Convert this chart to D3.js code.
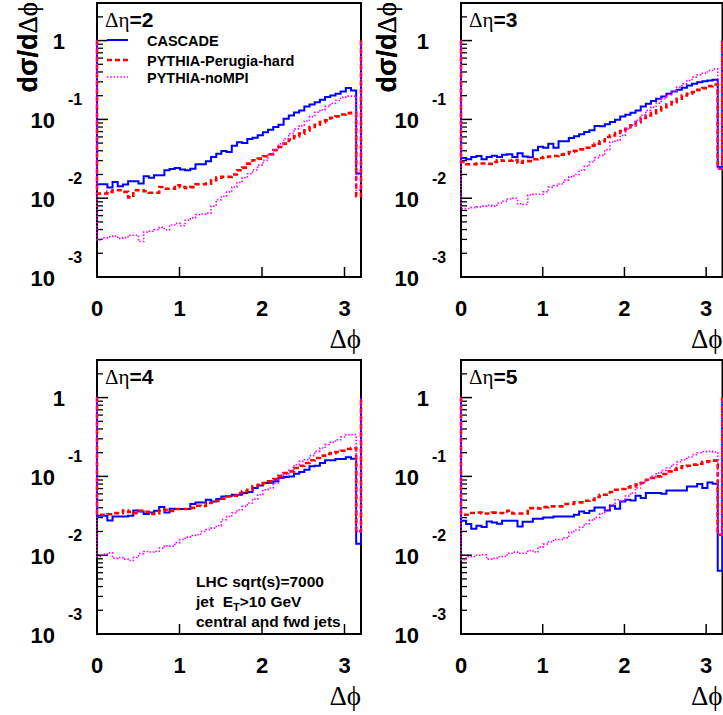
<!DOCTYPE html>
<html><head><meta charset="utf-8">
<script src="https://cdn.jsdelivr.net/npm/d3@7"></script>
<style>body{margin:0;background:#fff}svg{display:block}</style>
</head><body>
<script>
// ---------------- data ----------------
const panelEta = ["2", "3", "4", "5"];
const seriesNames = ["CASCADE", "PYTHIA-Perugia-hard", "PYTHIA-noMPI"];
const xTickValues = [0, 1, 2, 3];
const yTickExponents = [0, -1, -2, -3];
const nBins = 50;          // bins of width pi/50 over [0, pi], then one tail bin [pi, 3.2]
const xMax = 3.2;
const edgeValue = 1;       // histogram edge value drawn at the two ends
const noteLines = ["LHC sqrt(s)=7000", "jet  E|T|>10 GeV", "central and fwd jets"];

// log10(dσ/dΔφ) per bin (50 bins + tail bin)
const lgCascade2 = [
-1.823,-1.823,-1.865,-1.794,-1.848,-1.827,-1.785,-1.785,-1.814,-1.722,
-1.739,-1.709,-1.709,-1.646,-1.629,-1.616,-1.637,-1.646,-1.625,-1.570,
-1.570,-1.532,-1.477,-1.435,-1.401,-1.414,-1.333,-1.291,-1.299,-1.249,
-1.232,-1.200,-1.164,-1.131,-1.097,-1.067,-0.992,-0.949,-0.911,-0.886,
-0.835,-0.810,-0.781,-0.751,-0.717,-0.696,-0.675,-0.646,-0.603,-0.633,
-1.688];
const lgPerugia2 = [
-1.941,-1.941,-1.920,-1.900,-1.900,-1.920,-1.990,-1.900,-1.900,-1.911,
-1.930,-1.930,-1.857,-1.880,-1.880,-1.835,-1.860,-1.870,-1.860,-1.823,
-1.823,-1.815,-1.772,-1.739,-1.730,-1.730,-1.700,-1.646,-1.612,-1.561,
-1.519,-1.498,-1.468,-1.443,-1.392,-1.350,-1.308,-1.257,-1.215,-1.181,
-1.139,-1.097,-1.068,-1.034,-1.013,-0.979,-0.962,-0.937,-0.920,-0.916,
-1.975];
const lgNoMPI2 = [
-2.530,-2.500,-2.490,-2.480,-2.510,-2.500,-2.470,-2.470,-2.550,-2.430,
-2.420,-2.400,-2.370,-2.400,-2.340,-2.320,-2.350,-2.280,-2.250,-2.210,
-2.200,-2.190,-2.100,-2.020,-1.975,-1.920,-1.857,-1.800,-1.740,-1.690,
-1.640,-1.580,-1.520,-1.450,-1.380,-1.310,-1.245,-1.180,-1.120,-1.080,
-1.020,-0.965,-0.910,-0.880,-0.835,-0.795,-0.760,-0.720,-0.705,-0.705,
-1.900];

const lgCascade3 = [
-1.490,-1.505,-1.477,-1.464,-1.505,-1.477,-1.460,-1.477,-1.450,-1.443,
-1.477,-1.430,-1.470,-1.480,-1.392,-1.346,-1.359,-1.308,-1.359,-1.278,
-1.278,-1.236,-1.215,-1.190,-1.160,-1.139,-1.084,-1.088,-1.063,-1.034,
-1.004,-0.962,-0.941,-0.916,-0.886,-0.835,-0.802,-0.768,-0.738,-0.709,
-0.675,-0.646,-0.625,-0.599,-0.570,-0.549,-0.527,-0.515,-0.505,-0.498,
-1.604];
const lgPerugia3 = [
-1.540,-1.570,-1.570,-1.560,-1.560,-1.565,-1.540,-1.520,-1.525,-1.525,
-1.515,-1.550,-1.530,-1.530,-1.506,-1.490,-1.477,-1.470,-1.465,-1.447,
-1.440,-1.414,-1.400,-1.380,-1.359,-1.333,-1.308,-1.278,-1.224,-1.203,
-1.173,-1.148,-1.118,-1.076,-1.034,-0.983,-0.949,-0.920,-0.886,-0.844,
-0.810,-0.781,-0.738,-0.696,-0.675,-0.654,-0.625,-0.603,-0.578,-0.557,
-1.625];
const lgNoMPI3 = [
-2.130,-2.130,-2.120,-2.110,-2.100,-2.090,-2.100,-2.060,-2.040,-2.010,
-2.000,-2.070,-2.080,-1.960,-1.950,-1.950,-1.920,-1.860,-1.840,-1.820,
-1.770,-1.730,-1.700,-1.646,-1.595,-1.540,-1.485,-1.456,-1.384,-1.287,
-1.266,-1.203,-1.118,-1.076,-1.013,-0.949,-0.886,-0.844,-0.793,-0.738,
-0.688,-0.641,-0.591,-0.549,-0.506,-0.464,-0.435,-0.414,-0.380,-0.359,
-1.630];

const lgCascade4 = [
-1.499,-1.499,-1.559,-1.508,-1.510,-1.510,-1.499,-1.432,-1.445,-1.478,
-1.457,-1.436,-1.389,-1.457,-1.410,-1.415,-1.415,-1.415,-1.351,-1.330,
-1.330,-1.296,-1.317,-1.288,-1.254,-1.250,-1.232,-1.232,-1.211,-1.199,
-1.148,-1.114,-1.084,-1.080,-1.063,-1.021,-1.008,-1.000,-0.966,-0.944,
-0.915,-0.872,-0.865,-0.830,-0.796,-0.796,-0.779,-0.779,-0.758,-0.775,
-1.855];
const lgPerugia4 = [
-1.487,-1.487,-1.480,-1.466,-1.466,-1.432,-1.450,-1.466,-1.436,-1.450,
-1.478,-1.470,-1.436,-1.423,-1.440,-1.414,-1.414,-1.414,-1.400,-1.372,
-1.375,-1.338,-1.330,-1.310,-1.283,-1.254,-1.245,-1.211,-1.190,-1.169,
-1.127,-1.106,-1.084,-1.063,-1.033,-0.991,-0.957,-0.936,-0.894,-0.864,
-0.830,-0.796,-0.767,-0.737,-0.716,-0.705,-0.690,-0.674,-0.652,-0.644,
-1.699];
const lgNoMPI4 = [
-2.020,-1.990,-1.970,-2.040,-2.030,-2.050,-2.067,-2.030,-1.980,-1.953,
-1.960,-1.950,-1.910,-1.880,-1.885,-1.840,-1.800,-1.770,-1.750,-1.741,
-1.700,-1.675,-1.656,-1.626,-1.550,-1.508,-1.465,-1.423,-1.381,-1.338,
-1.288,-1.232,-1.169,-1.148,-1.084,-1.021,-0.978,-0.923,-0.851,-0.809,
-0.788,-0.737,-0.682,-0.640,-0.597,-0.568,-0.534,-0.500,-0.470,-0.470,
-1.700];

const lgCascade5 = [
-1.563,-1.605,-1.664,-1.626,-1.643,-1.571,-1.584,-1.601,-1.563,-1.563,
-1.563,-1.635,-1.575,-1.575,-1.537,-1.537,-1.521,-1.521,-1.508,-1.508,
-1.508,-1.508,-1.487,-1.444,-1.465,-1.436,-1.394,-1.394,-1.432,-1.372,
-1.411,-1.317,-1.296,-1.305,-1.245,-1.275,-1.211,-1.211,-1.211,-1.220,
-1.178,-1.178,-1.180,-1.180,-1.127,-1.127,-1.097,-1.148,-1.076,-1.093,
-2.198];
const lgPerugia5 = [
-1.487,-1.487,-1.465,-1.458,-1.470,-1.470,-1.460,-1.465,-1.465,-1.436,
-1.470,-1.470,-1.470,-1.402,-1.402,-1.407,-1.390,-1.381,-1.381,-1.381,
-1.351,-1.351,-1.330,-1.330,-1.309,-1.300,-1.262,-1.232,-1.232,-1.198,
-1.169,-1.160,-1.139,-1.127,-1.105,-1.084,-1.042,-1.021,-1.000,-0.970,
-0.936,-0.915,-0.894,-0.872,-0.865,-0.850,-0.839,-0.817,-0.809,-0.800,
-1.740];
const lgNoMPI5 = [
-2.058,-2.020,-2.016,-2.000,-1.995,-2.050,-2.040,-2.020,-2.016,-1.975,
-1.961,-1.975,-1.975,-1.940,-1.960,-1.897,-1.860,-1.830,-1.800,-1.800,
-1.780,-1.710,-1.680,-1.645,-1.600,-1.555,-1.520,-1.470,-1.423,-1.360,
-1.296,-1.310,-1.250,-1.211,-1.148,-1.076,-1.042,-1.000,-0.957,-0.923,
-0.894,-0.851,-0.817,-0.788,-0.754,-0.724,-0.700,-0.685,-0.682,-0.690,
-1.740];

const panelSeries = [
  [lgCascade2, lgPerugia2, lgNoMPI2],
  [lgCascade3, lgPerugia3, lgNoMPI3],
  [lgCascade4, lgPerugia4, lgNoMPI4],
  [lgCascade5, lgPerugia5, lgNoMPI5]
];

// ---------------- layout & style ----------------
const W = 723, H = 715;
const SANS = "'Liberation Sans', Arial, Helvetica, sans-serif";
const SERIF = "'Liberation Serif', 'Times New Roman', serif";
const layout = [
  {L: 97,  R: 361,   T: 3,   B: 277, titleX: 37},
  {L: 461, R: 722.5, T: 3,   B: 277, titleX: 396},
  {L: 97,  R: 361,   T: 360, B: 634, titleX: 37},
  {L: 461, R: 722.5, T: 360, B: 634, titleX: 396}
];
const styles = [
  {color: "#0000ff", width: 2.0, dash: null},
  {color: "#ff0000", width: 2.6, dash: "5,3"},
  {color: "#ff00ff", width: 1.6, dash: "1.5,1.8"}
];

const svg = d3.select("body").append("svg")
  .attr("width", W).attr("height", H)
  .style("font-family", SANS);

const edges = d3.range(nBins + 1).map(i => i * Math.PI / nBins).concat([xMax]);

panelEta.forEach((eta, p) => {
  const lay = layout[p];
  const x = d3.scaleLinear().domain([0, xMax]).range([lay.L, lay.R]);
  const y = d3.scaleLog().domain([1e-3, 3]).range([lay.B, lay.T]);
  const g = svg.append("g");

  // frame
  g.append("rect").attr("x", lay.L).attr("y", lay.T)
    .attr("width", lay.R - lay.L).attr("height", lay.B - lay.T)
    .attr("fill", "none").attr("stroke", "#000").attr("stroke-width", 2);

  // y ticks (major + minor)
  const minor = [];
  for (let e = -3; e <= 0; e++) for (let k = 2; k <= 9; k++) {
    const v = k * Math.pow(10, e);
    if (v <= y.domain()[1]) minor.push(v);
  }
  g.selectAll(".ymin").data(minor).enter().append("line")
    .attr("x1", lay.L).attr("x2", lay.L + 6)
    .attr("y1", d => y(d)).attr("y2", d => y(d))
    .attr("stroke", "#000").attr("stroke-width", 1.3);
  g.selectAll(".ymaj").data(yTickExponents).enter().append("line")
    .attr("x1", lay.L).attr("x2", lay.L + 11)
    .attr("y1", d => y(Math.pow(10, d))).attr("y2", d => y(Math.pow(10, d)))
    .attr("stroke", "#000").attr("stroke-width", 1.5);

  // y tick labels
  yTickExponents.forEach(e => {
    const yy = y(Math.pow(10, e));
    if (e === 0) {
      g.append("text").attr("x", lay.L - 32).attr("y", yy + 8)
        .attr("text-anchor", "end").attr("font-weight", "bold").attr("font-size", 22)
        .text("1");
    } else {
      g.append("text").attr("x", lay.L - 42).attr("y", yy + 9)
        .attr("text-anchor", "end").attr("font-weight", "bold").attr("font-size", 22)
        .text("10");
      g.append("text").attr("x", lay.L - 29).attr("y", yy - 14)
        .attr("text-anchor", "start").attr("font-weight", "bold").attr("font-size", 16)
        .text(String(e));
    }
  });

  // x ticks
  g.selectAll(".xt").data(xTickValues.filter(v => v > 0)).enter().append("line")
    .attr("x1", d => x(d)).attr("x2", d => x(d))
    .attr("y1", lay.B).attr("y2", lay.B - 10)
    .attr("stroke", "#000").attr("stroke-width", 1.5);
  g.selectAll(".xl").data(xTickValues).enter().append("text")
    .attr("x", d => x(d)).attr("y", lay.B + 39)
    .attr("text-anchor", "middle").attr("font-weight", "bold").attr("font-size", 22)
    .text(d => d);

  // x title
  g.append("text").attr("x", lay.R).attr("y", lay.B + 71)
    .attr("text-anchor", "end").attr("font-family", SERIF).attr("font-size", 27)
    .text("Δϕ");

  // y title
  const yt = g.append("text")
    .attr("transform", `translate(${lay.titleX},2) rotate(-90)`)
    .attr("text-anchor", "end").attr("font-size", 27);
  yt.append("tspan").attr("font-weight", "bold").text("dσ/d");
  yt.append("tspan").attr("font-family", SERIF).text("Δϕ");

  // histograms
  const line = d3.line().x(d => x(d[0])).y(d => y(d[1]));
  panelSeries[p].forEach((vals, s) => {
    const pts = [[0, edgeValue]];
    vals.forEach((lv, i) => {
      const v = Math.pow(10, lv);
      pts.push([edges[i], v]);
      pts.push([edges[i + 1], v]);
    });
    pts.push([xMax, edgeValue]);
    const st = styles[s];
    g.append("path").attr("d", line(pts))
      .attr("fill", "none").attr("stroke", st.color)
      .attr("stroke-width", st.width)
      .attr("stroke-dasharray", st.dash)
      .attr("stroke-linejoin", "miter");
  });

  // panel label
  const lab = g.append("text").attr("x", lay.L + 8).attr("y", lay.T + 24).attr("font-size", 21);
  lab.append("tspan").attr("font-family", SERIF).text("Δη");
  lab.append("tspan").attr("font-weight", "bold").text("=" + eta);

  // legend (first panel)
  if (p === 0) {
    const legY = [40, 60, 77];
    seriesNames.forEach((name, s) => {
      const st = styles[s];
      g.append("line").attr("x1", lay.L + 10).attr("x2", lay.L + 31)
        .attr("y1", legY[s]).attr("y2", legY[s])
        .attr("stroke", st.color).attr("stroke-width", st.width)
        .attr("stroke-dasharray", st.dash);
      g.append("text").attr("x", lay.L + 50).attr("y", legY[s] + 5.5)
        .attr("font-weight", "bold").attr("font-size", 14.5).text(name);
    });
  }

  // note (third panel)
  if (p === 2) {
    noteLines.forEach((t, i) => {
      const tx = g.append("text").attr("x", 196).attr("y", 587 + i * 20)
        .attr("font-weight", "bold").attr("font-size", 15.5)
        .attr("xml:space", "preserve");
      const parts = t.split("|");
      if (parts.length === 3) {
        tx.append("tspan").text(parts[0].replace("  ", "\u00a0\u00a0"));
        tx.append("tspan").attr("dy", 4).attr("font-size", 11).text(parts[1]);
        tx.append("tspan").attr("dy", -4).text(parts[2]);
      } else {
        tx.text(t);
      }
    });
  }
});
</script>
</body></html>
